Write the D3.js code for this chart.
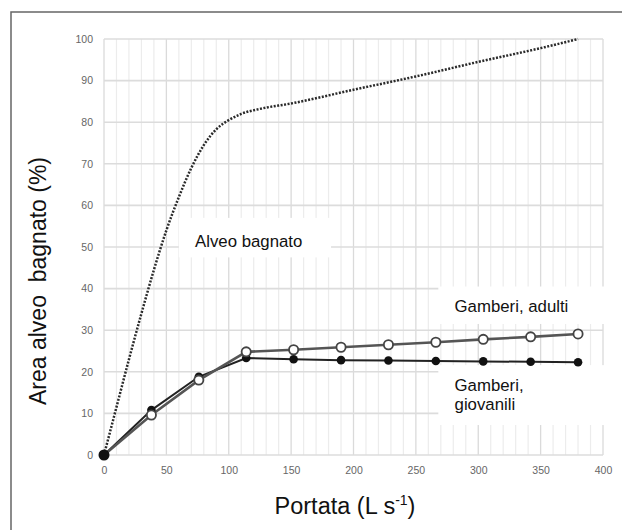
<!DOCTYPE html>
<html>
<head>
<meta charset="utf-8">
<script src="https://cdn.jsdelivr.net/npm/d3@7"></script>
<style>
  body { margin: 0; background: #fff; }
  svg { display: block; }
  text { font-family: "Liberation Sans", Arial, sans-serif; }
</style>
</head>
<body>
<div id="chart"></div>
<script>
// Discharge values (L/s) where the two shrimp series were sampled
const portata = [0, 38, 76, 114, 152, 190, 228, 266, 304, 342, 380];
const gamberiAdulti = [0, 9.6, 18.0, 24.8, 25.3, 25.9, 26.5, 27.1, 27.8, 28.4, 29.1];
const gamberiGiovanili = [0, 10.8, 18.8, 23.3, 23.0, 22.8, 22.7, 22.6, 22.5, 22.4, 22.3];

// Wetted river bed curve
const alveoPortata = [0, 10, 20, 30, 40, 50, 60, 70, 80, 90, 100, 110, 125, 150, 200, 250, 300, 350, 380];
const alveoBagnato = [0, 11.5, 23, 34, 44.5, 54, 62, 69, 74.5, 78.3, 80.5, 82, 83.2, 84.5, 87.8, 91, 94.5, 97.8, 100];

// Axis ticks
const xTicks = [0, 50, 100, 150, 200, 250, 300, 350, 400];
const xMinorTicks = d3.range(0, 401, 10);
const yTicks = [0, 10, 20, 30, 40, 50, 60, 70, 80, 90, 100];

const W = 622, H = 530;
const margin = { top: 39, right: 19, bottom: 75, left: 104 };
const width = W - margin.left - margin.right,
      height = H - margin.top - margin.bottom;

const svg = d3.select("#chart").append("svg")
    .attr("width", W)
    .attr("height", H);

// Frame around the picture (only left and top edges are visible)
svg.append("path")
    .attr("d", `M11,${H + 5} L11,12 L${W + 5},12`)
    .attr("fill", "none")
    .attr("stroke", "#666")
    .attr("stroke-width", 1.5);

const g = svg.append("g")
    .attr("transform", `translate(${margin.left},${margin.top})`);

const x = d3.scaleLinear().domain([0, 400]).range([0, width]);
const y = d3.scaleLinear().domain([0, 100]).range([height, 0]);

// Minor vertical grid every 10, major every 50
g.append("g").selectAll("line")
    .data(xMinorTicks.filter(d => d % 50 !== 0))
    .join("line")
    .attr("x1", d => x(d)).attr("x2", d => x(d))
    .attr("y1", 0).attr("y2", height)
    .attr("stroke", "#ececec")
    .attr("stroke-width", 1.2);

g.append("g").selectAll("line")
    .data(xTicks)
    .join("line")
    .attr("x1", d => x(d)).attr("x2", d => x(d))
    .attr("y1", 0).attr("y2", height)
    .attr("stroke", "#dadada")
    .attr("stroke-width", 1.3);

g.append("g").selectAll("line")
    .data(yTicks)
    .join("line")
    .attr("x1", 0).attr("x2", width)
    .attr("y1", d => y(d)).attr("y2", d => y(d))
    .attr("stroke", "#dcdcdc")
    .attr("stroke-width", 1.6);

// Axes: only labels, no domain line or tick marks
const xAxis = g.append("g")
    .attr("transform", `translate(0,${height})`)
    .call(d3.axisBottom(x).tickValues(xTicks).tickSize(0).tickPadding(12));
const yAxis = g.append("g")
    .call(d3.axisLeft(y).tickValues(yTicks).tickSize(0).tickPadding(11));
[xAxis, yAxis].forEach(a => {
    a.select(".domain").remove();
    a.selectAll("text")
        .attr("fill", "#666")
        .style("font-size", "10.5px")
        .style("font-family", "'Liberation Sans', Arial, sans-serif");
});

// Label boxes (white backgrounds hiding the grid)
const boxes = [
    { x0: 60, x1: 182, y0: 57, y1: 47.5 },
    { x0: 268, x1: 402, y0: 40.5, y1: 31.5 },
    { x0: 268, x1: 402, y0: 21.6, y1: 7.2 }
];
g.append("g").selectAll("rect")
    .data(boxes)
    .join("rect")
    .attr("x", d => x(d.x0))
    .attr("y", d => y(d.y0))
    .attr("width", d => x(d.x1) - x(d.x0))
    .attr("height", d => y(d.y1) - y(d.y0))
    .attr("fill", "#fff");

// Dotted wetted-area curve
const alveo = alveoPortata.map((p, i) => [p, alveoBagnato[i]]);
const line = d3.line().x(d => x(d[0])).y(d => y(d[1]));
g.append("path")
    .datum(alveo)
    .attr("fill", "none")
    .attr("stroke", "#2a2a2a")
    .attr("stroke-width", 2.5)
    .attr("stroke-dasharray", "2,1.5")
    .attr("d", line.curve(d3.curveMonotoneX));

const straight = d3.line().x(d => x(d[0])).y(d => y(d[1]));
const giov = portata.map((p, i) => [p, gamberiGiovanili[i]]);
const adul = portata.map((p, i) => [p, gamberiAdulti[i]]);

g.append("path")
    .datum(giov)
    .attr("fill", "none")
    .attr("stroke", "#222")
    .attr("stroke-width", 2)
    .attr("d", straight);

g.append("path")
    .datum(adul)
    .attr("fill", "none")
    .attr("stroke", "#555")
    .attr("stroke-width", 2.6)
    .attr("d", straight);

g.append("g").selectAll("circle")
    .data(giov)
    .join("circle")
    .attr("cx", d => x(d[0]))
    .attr("cy", d => y(d[1]))
    .attr("r", (d, i) => i === 0 ? 5.5 : 4.3)
    .attr("fill", "#111");

g.append("g").selectAll("circle")
    .data(adul.slice(1))
    .join("circle")
    .attr("cx", d => x(d[0]))
    .attr("cy", d => y(d[1]))
    .attr("r", 4.6)
    .attr("fill", "#fff")
    .attr("stroke", "#444")
    .attr("stroke-width", 1.8);

// Series labels
g.append("text")
    .attr("x", x(73)).attr("y", y(49.9))
    .attr("font-size", 16.8).attr("fill", "#111")
    .text("Alveo bagnato");

g.append("text")
    .attr("x", x(281)).attr("y", y(34.4))
    .attr("font-size", 16.8).attr("fill", "#111")
    .text("Gamberi, adulti");

const gv = g.append("text")
    .attr("font-size", 16.8).attr("fill", "#111");
gv.append("tspan").attr("x", x(281)).attr("y", y(15.4)).text("Gamberi,");
gv.append("tspan").attr("x", x(281)).attr("y", y(10.7)).text("giovanili");

// Axis titles
const xt = svg.append("text")
    .attr("x", 345).attr("y", 514)
    .attr("text-anchor", "middle")
    .attr("font-size", 23.5).attr("fill", "#111");
xt.append("tspan").text("Portata (L s");
xt.append("tspan").attr("font-size", 14).attr("dy", -9).text("-1");
xt.append("tspan").attr("dy", 9).text(")");

svg.append("text")
    .attr("transform", "translate(46,281) rotate(-90)")
    .attr("text-anchor", "middle")
    .attr("font-size", 23).attr("fill", "#111")
    .style("white-space", "pre")
    .text("Area alveo  bagnato (%)");
</script>
</body>
</html>
